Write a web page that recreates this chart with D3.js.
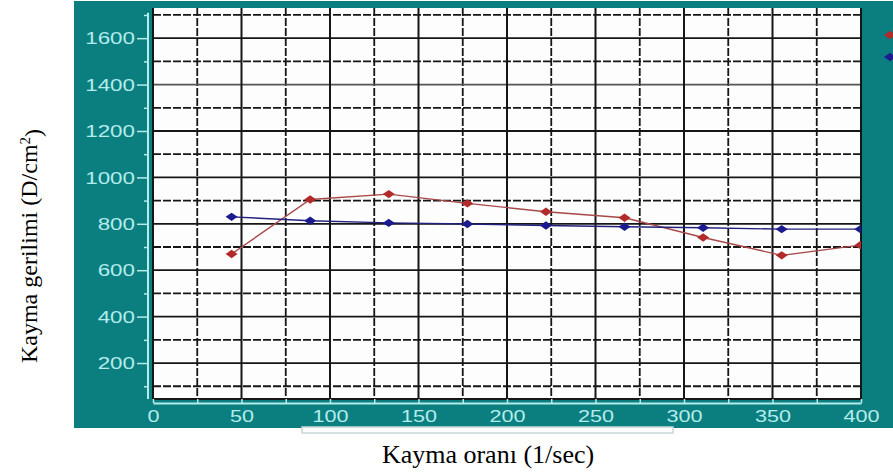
<!DOCTYPE html>
<html>
<head>
<meta charset="utf-8">
<script src="https://cdn.jsdelivr.net/npm/d3@7/dist/d3.min.js"></script>
<style>
  html, body { margin: 0; padding: 0; background: #ffffff; }
  svg { display: block; }
</style>
</head>
<body>
<script>
// Shear rate (1/sec) and shear stress (D/cm²) for the two measured samples
const shearRate = [44.4, 88.8, 133.2, 177.6, 222.0, 266.4, 310.8, 355.2, 399.6];
const redSeries = [670, 905, 928, 888, 852, 826, 741, 664, 708];
const blueSeries = [830, 813, 804, 799, 793, 787, 783, 777, 777];

const xMajorTicks = [0, 50, 100, 150, 200, 250, 300, 350, 400];
const xMinorTicks = [25, 75, 125, 175, 225, 275, 325, 375];
const yMajorTicks = [200, 400, 600, 800, 1000, 1200, 1400, 1600];
const yMinorTicks = [100, 300, 500, 700, 900, 1100, 1300, 1500, 1700];

const xTitle = "Kayma oranı (1/sec)";
const yTitleMain = "Kayma gerilimi (D/cm";
const yTitleSup = "2";
const yTitleEnd = ")";

const W = 893, H = 472;
const panel = { left: 74, top: 1, right: 893, bottom: 428 };
const plot = { left: 153, top: 8, right: 861, bottom: 399 };

const TEAL = "#0b7f7f";
const AXIS_COL = "#b4ecec";
const GRID_COL = "#161616";
const RED = "#b32a2a";
const RED_LINE = "#a84848";
const BLUE = "#1b1b8f";
const BLUE_LINE = "#22227e";

const svg = d3.select("body").append("svg")
  .attr("width", W).attr("height", H);

// teal frame
svg.append("rect")
  .attr("x", panel.left).attr("y", panel.top)
  .attr("width", panel.right - panel.left).attr("height", panel.bottom - panel.top)
  .attr("fill", TEAL);

const x = d3.scaleLinear().domain([0, 400]).range([plot.left, plot.right]);
const y = d3.scaleLinear().domain([45, 1730]).range([plot.bottom, plot.top]);

// white plotting area
svg.append("rect")
  .attr("x", plot.left).attr("y", plot.top)
  .attr("width", plot.right - plot.left).attr("height", plot.bottom - plot.top)
  .attr("fill", "#fdfdfd");

// grid
const grid = svg.append("g");
grid.selectAll("line.vmin").data(xMinorTicks).join("line")
  .attr("x1", d => x(d)).attr("x2", d => x(d))
  .attr("y1", plot.top).attr("y2", plot.bottom)
  .attr("stroke", GRID_COL).attr("stroke-width", 1.8)
  .attr("stroke-dasharray", "8,2");
grid.selectAll("line.hmin").data(yMinorTicks).join("line")
  .attr("x1", plot.left).attr("x2", plot.right)
  .attr("y1", d => y(d)).attr("y2", d => y(d))
  .attr("stroke", GRID_COL).attr("stroke-width", 1.8)
  .attr("stroke-dasharray", "8,2");
grid.selectAll("line.hmaj").data(yMajorTicks).join("line")
  .attr("x1", plot.left).attr("x2", plot.right)
  .attr("y1", d => y(d)).attr("y2", d => y(d))
  .attr("stroke", d => d === 1400 ? "#555" : GRID_COL).attr("stroke-width", 1.8);
grid.selectAll("line.vmaj").data(xMajorTicks).join("line")
  .attr("x1", d => x(d)).attr("x2", d => x(d))
  .attr("y1", plot.top).attr("y2", plot.bottom)
  .attr("stroke", GRID_COL).attr("stroke-width", 2);
grid.append("line")
  .attr("x1", plot.left).attr("x2", plot.right)
  .attr("y1", plot.bottom).attr("y2", plot.bottom)
  .attr("stroke", GRID_COL).attr("stroke-width", 2);

// y axis (left of the plot, light cyan)
const yAxisX = plot.left - 5;
const yMajor = svg.append("g").attr("transform", `translate(${yAxisX},0)`)
  .call(d3.axisLeft(y).tickValues(yMajorTicks).tickSize(11).tickSizeOuter(0).tickFormat(d3.format("d")));
const yMinor = svg.append("g").attr("transform", `translate(${yAxisX},0)`)
  .call(d3.axisLeft(y).tickValues(yMinorTicks).tickSize(4).tickSizeOuter(0).tickFormat(""));
[yMajor, yMinor].forEach(g => {
  g.select(".domain").remove();
  g.selectAll(".tick line").attr("stroke", AXIS_COL).attr("stroke-width", 1.5);
});
yMajor.selectAll(".tick text")
  .attr("x", null).attr("dy", "0.36em")
  .attr("transform", "translate(-13,0) scale(1.4,1)")
  .attr("fill", AXIS_COL)
  .style("font-family", "'Liberation Sans', Arial, sans-serif")
  .style("font-size", "16px");
svg.append("line")
  .attr("x1", yAxisX).attr("x2", yAxisX)
  .attr("y1", y(1710)).attr("y2", plot.bottom)
  .attr("stroke", AXIS_COL).attr("stroke-width", 2);

// x axis (below the plot, ticks pointing up)
const xAxisY = plot.bottom + 4;
const xMajor = svg.append("g").attr("transform", `translate(0,${xAxisY})`)
  .call(d3.axisBottom(x).tickValues(xMajorTicks).tickSize(-4).tickSizeOuter(0).tickFormat(d3.format("d")));
const xMinor = svg.append("g").attr("transform", `translate(0,${xAxisY})`)
  .call(d3.axisBottom(x).tickValues(xMinorTicks).tickSize(-4).tickSizeOuter(0).tickFormat(""));
xMinor.select(".domain").remove();
xMajor.select(".domain").attr("stroke", AXIS_COL).attr("stroke-width", 2);
[xMajor, xMinor].forEach(g => g.selectAll(".tick line").attr("stroke", AXIS_COL).attr("stroke-width", 1.5));
xMajor.selectAll(".tick text")
  .attr("y", 19).attr("dy", null)
  .attr("transform", "scale(1.35,1)")
  .attr("fill", AXIS_COL)
  .style("font-family", "'Liberation Sans', Arial, sans-serif")
  .style("font-size", "16px");

// white box under the frame
svg.append("rect")
  .attr("x", 302).attr("y", 427).attr("width", 371).attr("height", 6)
  .attr("fill", "#ffffff").attr("stroke", "#c8d8d8").attr("stroke-width", 1.5);

// series
svg.append("clipPath").attr("id", "plotClip")
  .append("rect")
  .attr("x", plot.left).attr("y", plot.top)
  .attr("width", plot.right - plot.left).attr("height", plot.bottom - plot.top);

const diamond = "M0,-4.2L6,0L0,4.2L-6,0Z";
const series = [
  { values: redSeries, line: RED_LINE, mark: RED },
  { values: blueSeries, line: BLUE_LINE, mark: BLUE }
];
const dataLayer = svg.append("g").attr("clip-path", "url(#plotClip)");
const lineGen = d3.line().x(d => x(d[0])).y(d => y(d[1]));
series.forEach(s => {
  const pts = shearRate.map((r, i) => [r, s.values[i]]);
  dataLayer.append("path")
    .attr("d", lineGen(pts))
    .attr("fill", "none").attr("stroke", s.line).attr("stroke-width", 1.4);
  dataLayer.selectAll(null).data(pts).join("path")
    .attr("d", diamond)
    .attr("transform", d => `translate(${x(d[0])},${y(d[1])})`)
    .attr("fill", s.mark);
});

// legend markers at the right edge of the frame
const legendY = [35, 57];
series.forEach((s, i) => {
  svg.append("path")
    .attr("d", diamond)
    .attr("transform", `translate(890,${legendY[i]})`)
    .attr("fill", s.mark);
});

// axis titles
svg.append("text")
  .attr("x", 488).attr("y", 463)
  .attr("text-anchor", "middle")
  .style("font-family", "'Liberation Serif', 'Times New Roman', serif")
  .style("font-size", "26px")
  .attr("fill", "#000")
  .text(xTitle);

const yt = svg.append("text")
  .attr("transform", "translate(37,246) rotate(-90)")
  .attr("text-anchor", "middle")
  .style("font-family", "'Liberation Serif', 'Times New Roman', serif")
  .style("font-size", "24px")
  .attr("fill", "#000");
yt.append("tspan").text(yTitleMain);
yt.append("tspan").attr("dy", "-0.45em").style("font-size", "15px").text(yTitleSup);
yt.append("tspan").attr("dy", "0.45em").text(yTitleEnd);
</script>
</body>
</html>
